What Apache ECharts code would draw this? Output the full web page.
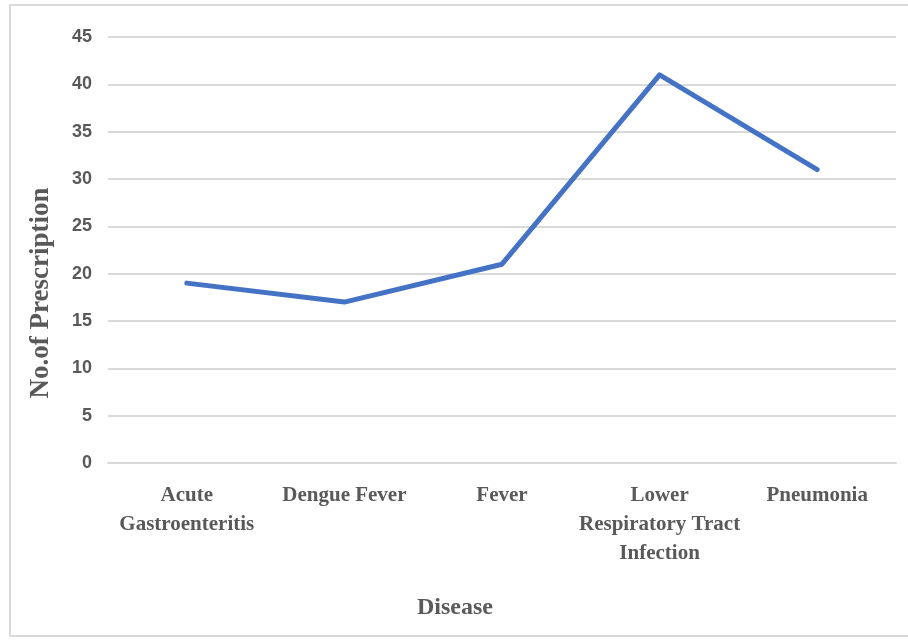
<!DOCTYPE html>
<html>
<head>
<meta charset="utf-8">
<script src="https://cdn.jsdelivr.net/npm/echarts@6/dist/echarts.min.js"></script>
<style>
  html, body { margin: 0; padding: 0; background: #ffffff; }
  #chart { width: 908px; height: 641px; }
</style>
</head>
<body>
<div id="chart"></div>
<script>
// Diseases on the x axis (labels wrap as shown under the axis)
const diseases = [
  'Acute\nGastroenteritis',
  'Dengue Fever',
  'Fever',
  'Lower\nRespiratory Tract\nInfection',
  'Pneumonia'
];
// Number of prescriptions per disease
const prescriptions = [19, 17, 21, 41, 31];
// Value axis range
const yMin = 0;
const yMax = 45;
const yStep = 5;

const chart = echarts.init(document.getElementById('chart'), null, { renderer: 'canvas' });

const serif = '"Liberation Serif", "Times New Roman", serif';
const sans = '"Liberation Sans", Arial, sans-serif';

chart.setOption({
  backgroundColor: '#ffffff',
  animation: false,
  graphic: [{
    type: 'rect',
    shape: { x: 10, y: 5, width: 1000, height: 631 },
    style: { fill: 'none', stroke: '#d9d9d9', lineWidth: 2 },
    silent: true
  }],
  grid: { left: 108, right: 12, top: 37, bottom: 178 },
  xAxis: {
    type: 'category',
    data: diseases,
    boundaryGap: true,
    name: 'Disease',
    nameLocation: 'middle',
    nameGap: 133,
    nameTextStyle: {
      fontFamily: serif, fontWeight: 'bold', fontSize: 24, color: '#595959',
      padding: [0, 94, 0, 0]
    },
    axisLine: { show: true, lineStyle: { color: '#d9d9d9', width: 2 } },
    axisTick: { show: false },
    axisLabel: {
      interval: 0,
      margin: 18,
      fontFamily: serif,
      fontWeight: 'bold',
      fontSize: 21,
      lineHeight: 29,
      color: '#595959'
    }
  },
  yAxis: {
    type: 'value',
    min: yMin,
    max: yMax,
    interval: yStep,
    name: 'No.of Prescription',
    nameLocation: 'middle',
    nameGap: 53,
    nameTextStyle: {
      fontFamily: serif, fontWeight: 'bold', fontSize: 27, color: '#595959',
      padding: [0, 86, 0, 0]
    },
    axisLine: { show: false },
    axisTick: { show: false },
    axisLabel: {
      margin: 16,
      fontFamily: sans,
      fontWeight: 'bold',
      fontSize: 18,
      color: '#595959'
    },
    splitLine: { show: true, lineStyle: { color: '#d9d9d9', width: 2 } }
  },
  series: [{
    type: 'line',
    data: prescriptions,
    symbol: 'none',
    lineStyle: { color: '#4472c4', width: 5, cap: 'round', join: 'round' }
  }]
});
</script>
</body>
</html>
